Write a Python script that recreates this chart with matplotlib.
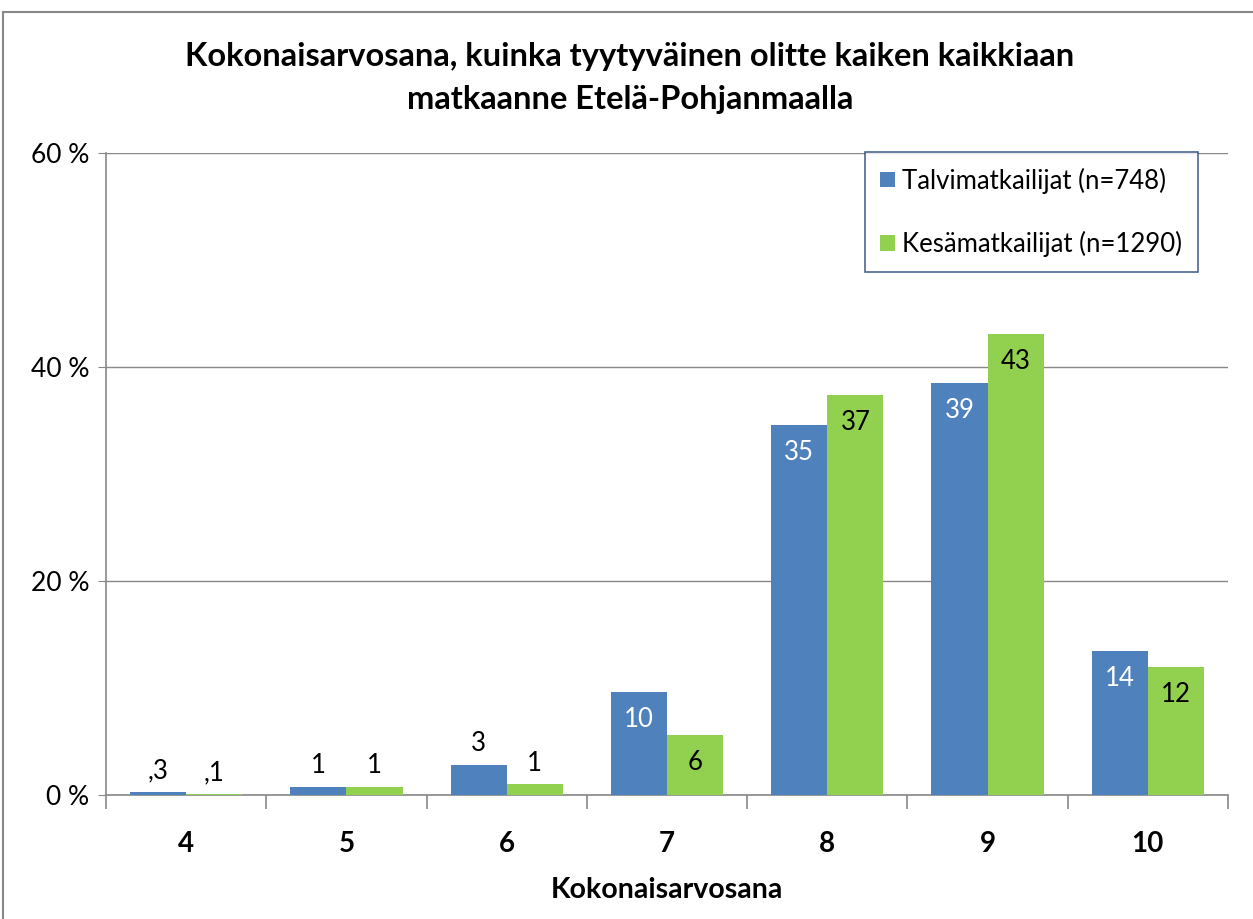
import matplotlib
matplotlib.use("Agg")
import matplotlib.pyplot as plt
from matplotlib.patches import Rectangle
import numpy as np

plt.rcParams['font.family'] = ['Lato', 'DejaVu Sans']

categories = ["4", "5", "6", "7", "8", "9", "10"]
talvi = [0.3, 0.75, 2.8, 9.6, 34.6, 38.5, 13.5]
kesa = [0.1, 0.75, 1.0, 5.6, 37.4, 43.1, 12.0]
talvi_labels = [",3", "1", "3", "10", "35", "39", "14"]
kesa_labels = [",1", "1", "1", "6", "37", "43", "12"]
series_names = ["Talvimatkailijat (n=748)", "Kesämatkailijat (n=1290)"]
yticks = [0, 20, 40, 60]
ytick_labels = ["0 %", "20 %", "40 %", "60 %"]

blue = "#4F81BD"
green = "#92D050"

W, H = 1253, 919
fig = plt.figure(figsize=(W / 100, H / 100), dpi=100)
fig.patch.set_facecolor("white")
# figure border
fig.add_artist(Rectangle((3 / W, -0.1), 1.2, (1 - 12 / H) + 0.1, transform=fig.transFigure,
                         fill=False, edgecolor="#888888", linewidth=1.5))

ax = fig.add_axes([106 / W, 1 - 795 / H, (1228 - 106) / W, (795 - 153) / H])
x = np.arange(len(categories))
bw = 0.35
b1 = ax.bar(x - bw / 2, talvi, bw, color=blue, label=series_names[0], zorder=3)
b2 = ax.bar(x + bw / 2, kesa, bw, color=green, label=series_names[1], zorder=3)

ax.set_xlim(-0.5, len(categories) - 0.5)
ax.set_ylim(0, 60)
ax.set_yticks(yticks)
ax.set_yticklabels(ytick_labels, fontsize=19)
ax.yaxis.grid(True, color="#888888", linewidth=1, zorder=0)
ax.set_axisbelow(True)
for s in ["top", "right"]:
    ax.spines[s].set_visible(False)
ax.spines["left"].set_color("#888888")
ax.spines["bottom"].set_color("#888888")
ax.spines["left"].set_linewidth(1.2)
ax.spines["bottom"].set_linewidth(1.2)
ax.tick_params(axis="y", length=6, color="#888888", pad=6)

ax.set_xticks(x)
ax.set_xticklabels(categories, fontsize=20, fontweight="bold")
ax.tick_params(axis="x", which="major", length=0, pad=26)
ax.set_xticks(np.arange(-0.5, len(categories)), minor=True)
ax.tick_params(axis="x", which="minor", length=10, color="#888888", width=1.2)
ax.set_xlabel("Kokonaisarvosana", fontsize=20.5, fontweight="bold", labelpad=14)

def label(bars, labels, inside_color):
    for rect, lab in zip(bars, labels):
        h = rect.get_height()
        cx = rect.get_x() + rect.get_width() / 2
        if h > 5:
            ax.text(cx, h - 1.4, lab, ha="center", va="top", fontsize=18.5,
                    color=inside_color, zorder=4)
        else:
            ax.text(cx, h + 0.8, lab, ha="center", va="bottom", fontsize=18.5,
                    color="black", zorder=4)

label(b1, talvi_labels, "white")
label(b2, kesa_labels, "black")

fig.text(630 / W, 1 - 78 / H,
         "Kokonaisarvosana, kuinka tyytyväinen olitte kaiken kaikkiaan\nmatkaanne Etelä-Pohjanmaalla",
         ha="center", va="center", fontsize=23.5, fontweight="bold", linespacing=1.55)

leg = fig.legend(handles=[b1, b2], labels=series_names, loc="upper left",
                 bbox_to_anchor=(865 / W, 1 - 152 / H), fontsize=18.5, frameon=True,
                 fancybox=False, edgecolor="#1F3E7A", handlelength=0.55, handleheight=0.55,
                 labelspacing=1.45, borderpad=0.6, handletextpad=0.3, borderaxespad=0)
leg.get_frame().set_linewidth(1.2)

fig.savefig("out.png", dpi=100, facecolor="white")
